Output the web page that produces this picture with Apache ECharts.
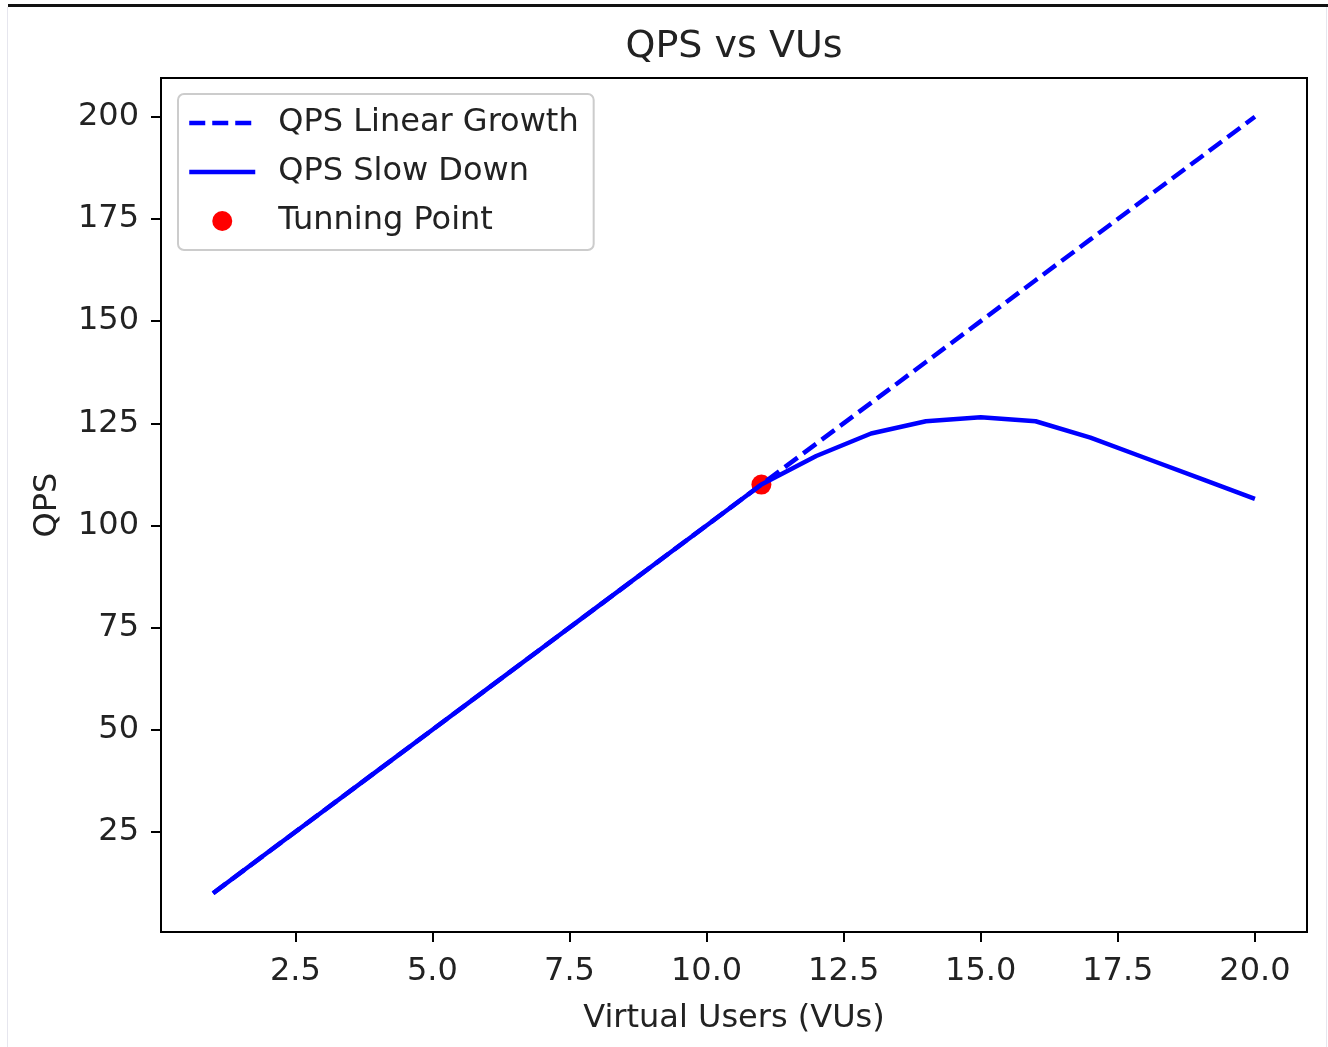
<!DOCTYPE html>
<html>
<head>
<meta charset="utf-8">
<script src="https://cdn.jsdelivr.net/npm/echarts@6/dist/echarts.min.js"></script>
<style>
html,body{margin:0;padding:0;background:#fff;}
#c{width:1328px;height:1047px;}
</style>
</head>
<body>
<div id="c"></div>
<script>
const vus = [1,2,3,4,5,6,7,8,9,10,11,12,13,14,15,16,17,18,19,20];
const qpsLinear = [10,20,30,40,50,60,70,80,90,100,110,120,130,140,150,160,170,180,190,200];
const qpsSlow = [10,20,30,40,50,60,70,80,90,100,110,117,122.5,125.5,126.5,125.5,121.5,116.5,111.5,106.5];
const turningPoint = [[11,110]];
const xTicks = [2.5,5,7.5,10,12.5,15,17.5,20];
const yTicks = [25,50,75,100,125,150,175,200];

const font = 'DejaVu Sans';
const txt = '#222';
const dash = [16,7];
const chart = echarts.init(document.getElementById('c'), null, {renderer:'canvas'});
chart.setOption({
  backgroundColor:'#fff',
  animation:false,
  textStyle:{fontFamily:font},
  title:{text:'QPS vs VUs', top:28, left:734, textAlign:'center', padding:0,
    textStyle:{fontFamily:font, fontSize:38, fontWeight:'normal', color:txt}},
  grid:{left:161, right:21, top:78, bottom:115, show:true, borderColor:'#000', borderWidth:2, backgroundColor:'transparent'},
  legend:{
    orient:'vertical', left:178, top:94,
    padding:[13,15,13,9],
    itemWidth:66, itemHeight:20, itemGap:17, itemTextGap:5,
    backgroundColor:'rgba(255,255,255,0.8)',
    borderColor:'#ccc', borderWidth:2, borderRadius:6,
    textStyle:{fontFamily:font, fontSize:32, color:txt, lineHeight:32, padding:[0,0,0,18]},
    data:[
      {name:'QPS Linear Growth', itemStyle:{opacity:0}, lineStyle:{width:4.5, type:dash, color:'#0000ff'}},
      {name:'QPS Slow Down', itemStyle:{opacity:0}, lineStyle:{width:4.5, type:'solid', color:'#0000ff'}},
      {name:'Tunning Point', itemStyle:{color:'#ff0000', opacity:1}}
    ]
  },
  xAxis:{
    type:'value', min:0.05, max:20.95,
    name:'Virtual Users (VUs)', nameLocation:'middle', nameGap:71,
    nameTextStyle:{fontFamily:font, fontSize:32, color:txt},
    axisLine:{show:true, lineStyle:{color:'#000', width:2}},
    axisTick:{show:true, inside:false, length:10, lineStyle:{color:'#000', width:2}, customValues:xTicks},
    axisLabel:{show:true, fontFamily:font, fontSize:32, color:txt, margin:24, customValues:xTicks,
      formatter:v=>v.toFixed(1)},
    splitLine:{show:false}
  },
  yAxis:{
    type:'value', min:0.5, max:209.5,
    name:'QPS', nameLocation:'middle', nameGap:97, nameRotate:90,
    nameTextStyle:{fontFamily:font, fontSize:32, color:txt},
    axisLine:{show:true, lineStyle:{color:'#000', width:2}},
    axisTick:{show:true, inside:false, length:10, lineStyle:{color:'#000', width:2}, customValues:yTicks},
    axisLabel:{show:true, fontFamily:font, fontSize:32, color:txt, margin:22, customValues:yTicks},
    splitLine:{show:false}
  },
  series:[
    {name:'QPS Linear Growth', type:'line', data:vus.map((x,i)=>[x,qpsLinear[i]]),
      symbol:'none', z:3, lineStyle:{color:'#0000ff', width:4.5, type:dash}, itemStyle:{color:'#0000ff'}},
    {name:'QPS Slow Down', type:'line', data:vus.map((x,i)=>[x,qpsSlow[i]]),
      symbol:'none', z:4, lineStyle:{color:'#0000ff', width:4.5, type:'solid'}, itemStyle:{color:'#0000ff'}},
    {name:'Tunning Point', type:'scatter', data:turningPoint, symbol:'circle', symbolSize:20, z:2,
      itemStyle:{color:'#ff0000', opacity:1}}
  ],
  graphic:[
    {type:'rect', shape:{x:8, y:4, width:1320, height:3}, style:{fill:'#111'}, silent:true},
    {type:'rect', shape:{x:7, y:7, width:1, height:1040}, style:{fill:'#e6e6ee'}, silent:true},
    {type:'rect', shape:{x:1326, y:7, width:1, height:1040}, style:{fill:'#e6e6ee'}, silent:true}
  ]
});
</script>
</body>
</html>
